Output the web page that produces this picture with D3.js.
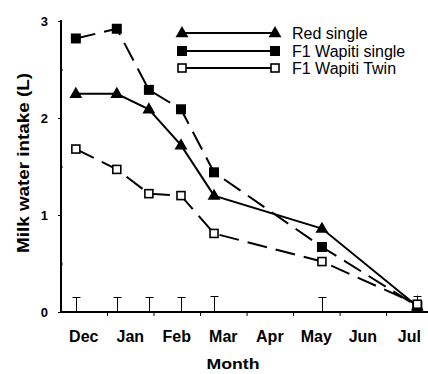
<!DOCTYPE html>
<html>
<head>
<meta charset="utf-8">
<script src="https://cdn.jsdelivr.net/npm/d3@7"></script>
<style>
  body { margin: 0; background: #fff; }
  svg { display: block; font-family: "Liberation Sans", Arial, sans-serif; }
</style>
</head>
<body>
<div id="chart"></div>
<script>
// months along the x axis (month index 0 = start of Dec)
var months = ["Dec", "Jan", "Feb", "Mar", "Apr", "May", "Jun", "Jul"];
// sampling dates, as fractional months since 1 Dec
var sampleMonth = [0.33, 1.21, 1.90, 2.59, 3.30, 5.62, 7.67];

var redSingle    = [2.25, 2.25, 2.09, 1.72, 1.20, 0.86, 0.06];
var wapitiSingle = [2.82, 2.92, 2.29, 2.09, 1.44, 0.67, 0.06];
var wapitiTwin   = [1.68, 1.47, 1.22, 1.20, 0.81, 0.52, 0.08];
// top of the (upper) error bars drawn at each sampling date
var errTop       = [0.15, 0.15, 0.15, 0.15, 0.16, 0.15, 0.17];

var yTicks = [0, 1, 2, 3];
var yMinor = [0.5, 1.5, 2.5];

var W = 428, H = 374;

var svg = d3.select("#chart").append("svg")
    .attr("width", W).attr("height", H);

var x = d3.scaleLinear().domain([0, 7.9]).range([60.5, 428]);
var y = d3.scaleLinear().domain([0, 3]).range([312, 21]);

var series = [
  { name: "Red single",        values: redSingle,    marker: "tri",   dash: null },
  { name: "F1 Wapiti single",  values: wapitiSingle, marker: "fill",  dash: "20,9" },
  { name: "F1 Wapiti Twin",    values: wapitiTwin,   marker: "open",  dash: "20,9" }
];

function drawMarker(g, type, cx, cy) {
  if (type === "tri") {
    g.append("path")
      .attr("d", d3.symbol(d3.symbolTriangle, 72)())
      .attr("transform", "translate(" + cx + "," + (cy + 0.5) + ")")
      .attr("fill", "#000");
  } else if (type === "fill") {
    g.append("rect")
      .attr("x", cx - 5).attr("y", cy - 5)
      .attr("width", 10).attr("height", 10)
      .attr("fill", "#000");
  } else {
    g.append("rect")
      .attr("x", cx - 4).attr("y", cy - 4)
      .attr("width", 8).attr("height", 8)
      .attr("fill", "#fff").attr("stroke", "#000").attr("stroke-width", 1.6);
  }
}

// error bars
var eb = svg.append("g").attr("stroke", "#000").attr("stroke-width", 1);
sampleMonth.forEach(function(m, i) {
  var px = Math.round(x(m)) + 0.5;
  eb.append("line").attr("x1", px).attr("x2", px)
    .attr("y1", y(0)).attr("y2", y(errTop[i]));
  eb.append("line").attr("x1", px - 4).attr("x2", px + 4)
    .attr("y1", Math.round(y(errTop[i])) + 0.5).attr("y2", Math.round(y(errTop[i])) + 0.5);
});

// lines
var line = d3.line()
  .x(function(d, i) { return x(sampleMonth[i]); })
  .y(function(d) { return y(d); });

series.forEach(function(s) {
  svg.append("path")
    .attr("d", line(s.values))
    .attr("fill", "none")
    .attr("stroke", "#000")
    .attr("stroke-width", 2)
    .attr("stroke-dasharray", s.dash);
});

// markers
series.forEach(function(s) {
  var g = svg.append("g");
  s.values.forEach(function(v, i) {
    drawMarker(g, s.marker, x(sampleMonth[i]), y(v));
  });
});

// y axis
var yAxis = svg.append("g")
  .attr("transform", "translate(61,0)")
  .call(d3.axisLeft(y).tickValues(yTicks).tickSize(3).tickFormat(d3.format("d")));
yAxis.select(".domain").attr("stroke-width", 2).attr("d", "M0," + y(0) + "V" + (y(3) - 1));
yAxis.selectAll(".tick line").attr("stroke-width", 1);
yAxis.selectAll(".tick text")
  .attr("x", -13)
  .attr("font-size", 13)
  .attr("font-weight", "bold")
  .attr("fill", "#000");
svg.append("g")
  .attr("transform", "translate(61,0)")
  .call(d3.axisRight(y).tickValues(yMinor).tickSize(2).tickFormat(""))
  .call(function(g) { g.select(".domain").remove(); });

// x axis
var xAxis = svg.append("g")
  .attr("transform", "translate(0," + y(0) + ")")
  .call(d3.axisBottom(x).tickValues(d3.range(1, 8)).tickSize(4).tickFormat(""));
xAxis.select(".domain").attr("stroke-width", 2).attr("d", "M60," + 0 + "H428");
xAxis.selectAll(".tick line").attr("stroke-width", 1);

svg.append("g").selectAll("text")
  .data(months)
  .join("text")
  .attr("x", function(d, i) { return x(i + 0.5); })
  .attr("y", 342)
  .attr("text-anchor", "middle")
  .attr("font-size", 16)
  .attr("font-weight", "bold")
  .text(function(d) { return d; });

// axis titles
svg.append("text")
  .attr("x", 233).attr("y", 369)
  .attr("text-anchor", "middle")
  .attr("font-size", 15).attr("font-weight", "bold")
  .attr("textLength", 53).attr("lengthAdjust", "spacingAndGlyphs")
  .text("Month");

svg.append("text")
  .attr("transform", "translate(29,163) rotate(-90)")
  .attr("text-anchor", "middle")
  .attr("font-size", 16).attr("font-weight", "bold")
  .attr("textLength", 180).attr("lengthAdjust", "spacingAndGlyphs")
  .text("Milk water intake (L)");

// legend
var legendY = [33, 51, 68];
var legend = svg.append("g");
series.forEach(function(s, i) {
  var ly = legendY[i];
  legend.append("line")
    .attr("x1", 182).attr("x2", 275)
    .attr("y1", ly).attr("y2", ly)
    .attr("stroke", "#000").attr("stroke-width", 2);
  drawMarker(legend, s.marker, 182, ly);
  drawMarker(legend, s.marker, 275, ly);
  legend.append("text")
    .attr("x", 292).attr("y", ly + 5.5)
    .attr("font-size", 16)
    .text(s.name);
});
</script>
</body>
</html>
